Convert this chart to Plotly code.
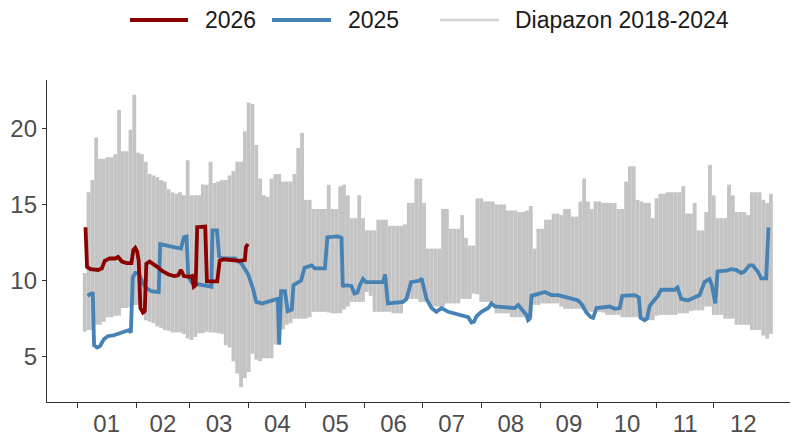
import datetime as dt
import plotly.graph_objects as go

# ---------------- data ----------------
# x = day of year (0 = 1 January)
month_labels = ["01", "02", "03", "04", "05", "06", "07", "08", "09", "10", "11", "12"]

# Range 2018-2024: min / max, one value every 2 days starting at day 4
band_day = list(range(4, 365, 2))
band_hi = [
    10.5, 15.8, 16.6, 19.4, 18.0, 18.0, 18.1, 18.1, 18.3, 21.2,
    18.5, 18.5, 19.9, 22.2, 18.4, 18.3, 17.8, 17.0, 16.9, 16.8,
    16.6, 16.5, 16.0, 15.8, 15.7, 15.8, 15.6, 17.9, 15.6, 15.6,
    15.6, 16.3, 16.3, 17.8, 16.4, 16.5, 16.6, 16.6, 16.9, 17.2,
    17.8, 17.8, 19.8, 21.7, 21.6, 18.9, 16.7, 15.6, 15.5, 16.7,
    17.0, 17.0, 16.5, 16.5, 16.5, 17.0, 18.7, 19.7, 15.3, 15.3,
    14.7, 14.7, 14.7, 14.7, 16.3, 14.7, 14.7, 16.2, 16.3, 15.6,
    14.1, 14.1, 15.6, 14.1, 13.3, 13.3, 13.3, 14.0, 14.0, 14.0,
    13.6, 13.6, 13.6, 13.6, 13.7, 15.1, 15.1, 16.7, 16.7, 15.1,
    12.1, 12.1, 12.1, 12.1, 14.7, 14.7, 13.4, 13.4, 13.4, 14.3,
    12.8, 12.3, 12.3, 15.4, 15.4, 15.2, 15.2, 15.2, 15.0, 15.0,
    15.0, 14.6, 14.6, 14.6, 14.5, 14.5, 14.6, 14.9, 12.1, 13.4,
    13.4, 14.0, 14.0, 14.4, 14.4, 14.3, 14.7, 14.7, 14.2, 14.2,
    15.2, 16.7, 15.2, 14.7, 15.2, 15.2, 15.1, 15.1, 15.1, 15.1,
    14.7, 14.7, 16.5, 17.5, 17.5, 15.3, 15.2, 15.1, 15.1, 14.1,
    15.4, 15.7, 15.7, 15.8, 15.8, 15.8, 15.8, 16.2, 14.4, 14.4,
    15.1, 13.3, 13.3, 14.5, 17.6, 15.6, 14.1, 14.1, 14.1, 16.3,
    15.6, 14.5, 14.5, 14.5, 14.3, 15.8, 15.8, 15.8, 15.3, 15.1,
    15.7,
]
band_lo = [
    6.65, 6.75, 6.75, 7.1, 7.1, 7.3, 7.6, 7.6, 7.7, 7.7,
    8.2, 8.2, 8.3, 8.4, 8.4, 8.3, 7.4, 7.3, 7.2, 7.0,
    6.9, 6.75, 6.7, 6.6, 6.6, 6.6, 6.5, 6.2, 6.1, 6.3,
    6.55, 6.55, 6.65, 6.6, 6.6, 6.55, 6.5, 5.75, 5.6, 4.7,
    3.9, 3.0, 3.6, 4.0, 5.2, 4.8, 4.7, 4.9, 4.9, 4.9,
    5.8, 6.0, 6.8, 7.1, 7.2, 7.5, 7.5, 7.5, 7.5, 7.6,
    7.95, 7.95, 7.95, 7.95, 7.9, 7.85, 7.85, 7.85, 8.1, 8.3,
    8.6, 8.6, 8.6, 8.6, 9.25, 9.0, 7.95, 7.95, 7.95, 7.95,
    7.95, 7.85, 7.85, 7.85, 8.8, 8.8, 8.8, 8.8, 8.6, 8.6,
    8.6, 8.3, 8.3, 8.3, 8.3, 8.5, 8.5, 8.5, 8.5, 8.8,
    8.8, 8.8, 9.15, 9.1, 8.6, 8.6, 8.6, 8.6, 7.85, 7.85,
    7.85, 7.85, 7.6, 7.6, 7.6, 7.6, 7.6, 7.6, 8.4, 8.4,
    8.5, 8.5, 8.5, 8.5, 8.5, 8.3, 8.15, 8.15, 8.15, 8.15,
    8.15, 8.15, 7.95, 7.95, 7.95, 7.95, 7.9, 7.75, 7.75, 7.75,
    7.75, 7.6, 7.6, 7.6, 7.6, 7.6, 7.6, 7.4, 7.4, 7.4,
    7.7, 7.75, 7.75, 7.75, 7.75, 7.75, 7.85, 7.85, 7.85, 8.0,
    8.05, 8.05, 8.05, 8.3, 8.3, 7.75, 7.75, 7.75, 7.5, 7.5,
    7.5, 7.1, 7.1, 7.1, 7.1, 6.75, 6.75, 6.75, 6.4, 6.2,
    6.5,
]

# 2025
y2025_day = [
    5.5, 7.2, 8.2, 8.9, 10.5, 12, 14, 16, 19, 23, 25.5, 27, 28.2, 29.2, 30.5, 32.5,
    34.5, 36, 39, 42.8, 43.6, 46, 49, 54.5, 56, 57.4, 58.3, 60, 62, 66, 69.7, 70.4,
    71, 73.4, 74.5, 76, 82.8, 86.3, 89.8, 92.2, 94, 97, 103.7, 105.3, 106, 107,
    109, 110.5, 112.6, 113.5, 117.5, 119.3, 123, 124.7, 130, 131.3, 137, 138.7,
    139.4, 140.5, 143.9, 145.5, 147, 148.3, 150, 151.5, 160.5, 161.6, 163, 171,
    172.8, 175.2, 179.8, 180.7, 183.3, 185.9, 188.5, 191.2, 194.7, 198.2, 203.4,
    205.2, 206.9, 208.2, 209.5, 212.1, 215.7, 217.4, 219.2, 229.6, 231.4, 234,
    235.7, 236.6, 237.5, 238.4, 243.6, 245.4, 248.9, 252.3, 258.5, 262.8, 265,
    267.2, 269.5, 270.7, 272.5, 276.8, 279.5, 282, 284.7, 286, 292.5, 294.7,
    295.6, 297.8, 299, 300.4, 302.1, 304.7, 306.4, 313.4, 315, 316.9, 320.4,
    324.8, 326.6, 329.1, 331.8, 333, 334.8, 336, 340.5, 343.1, 345.7, 348.4,
    350.1, 352.7, 354.5, 357.1, 358.9, 361.5, 362.7,
]
y2025_val = [
    9.0, 9.15, 9.15, 5.75, 5.6, 5.7, 6.15, 6.35, 6.4, 6.55, 6.7, 6.75, 6.6, 10.2, 10.5, 10.45,
    9.8, 9.55, 9.3, 9.25, 12.4, 12.35, 12.25, 12.1, 12.85, 12.9, 10.3, 9.9, 9.8, 9.7, 9.65, 9.6,
    13.3, 13.3, 11.6, 11.45, 11.45, 11.1, 10.4, 9.5, 8.6, 8.5, 8.75, 8.8, 5.8, 9.3,
    9.3, 8.0, 8.1, 9.7, 10.0, 10.85, 11.0, 10.8, 10.8, 12.85, 12.9, 12.8,
    9.6, 9.7, 9.65, 9.15, 9.2, 9.7, 10.1, 9.9, 9.9, 10.4, 8.5, 8.6,
    8.8, 9.9, 10.0, 10.15, 8.8, 8.2, 7.95, 8.2, 7.95, 7.85, 7.7,
    7.6, 7.25, 7.3, 7.65, 7.95, 8.2, 8.5, 8.3, 8.2, 8.4, 7.95,
    7.75, 7.4, 7.5, 9.0, 9.15, 9.25, 9.05, 9.05, 8.85, 8.7, 8.4,
    7.9, 7.6, 7.55, 8.2, 8.3, 8.3, 8.15, 8.2, 9.0, 9.05, 8.9,
    7.55, 7.4, 7.5, 8.35, 8.6, 9.0, 9.4, 9.4, 9.55, 8.8, 8.7,
    8.95, 9.05, 9.9, 10.1, 9.7, 8.5, 10.6, 10.65, 10.75, 10.7, 10.5,
    10.6, 11.0, 11.0, 10.6, 10.15, 10.15, 13.5,
]

# 2026
y2026_day = [
    4.4, 5.2, 7, 11, 13, 14.5, 17, 20, 21.5, 23.5, 26, 28.5, 29.5, 30.5, 31.5, 32.3,
    33.2, 34.5, 35.5, 36.3, 38, 40, 42, 45, 48, 51, 53, 54.5, 56, 59, 60.3, 61.2,
    62.2, 63, 67.2, 68.1, 73.5, 74.8, 77, 85, 88, 88.6, 89.6,
]
y2026_val = [
    13.5, 10.9, 10.75, 10.7, 10.8, 11.3, 11.45, 11.45, 11.55, 11.25, 11.15, 11.15, 12.0, 12.15, 11.9, 11.3,
    8.2, 7.9, 8.0, 11.1, 11.25, 11.1, 10.9, 10.6, 10.4, 10.3, 10.35, 10.7, 10.3, 10.25, 10.3, 9.6,
    9.7, 13.5, 13.55, 9.95, 9.95, 11.3, 11.4, 11.3, 11.35, 12.2, 12.4,
]

# ---------------- styling ----------------
RED = "#8B0000"
BLUE = "#4682B4"
BAND = "#C4C4C4"
LEG_GRAY = "#D3D3D3"
FONT = "Liberation Sans, Arial, sans-serif"
TICK_COLOR = "#4D4D4D"

# the page body has an 8px default margin: size the figure so that it fills
# the 798x443 window exactly
PAGE_OFF = 8
W, H = 798 - PAGE_OFF, 443 - PAGE_OFF
# plot area in window pixels: x 47..798, y 80..402
ML = 47 - PAGE_OFF
MT = 80 - PAGE_OFF
MR = 0
MB = H - (402 - PAGE_OFF)

# month boundaries / mid points (axis configuration)
year0 = dt.date(2025, 1, 1)
month_starts = [(dt.date(2025, m, 1) - year0).days for m in range(1, 13)]
month_ends = month_starts[1:] + [365]
month_mids = [(a + b) / 2 for a, b in zip(month_starts, month_ends)]

fig = go.Figure()

fig.add_trace(go.Bar(
    x=band_day,
    y=[h - l for h, l in zip(band_hi, band_lo)],
    base=band_lo,
    width=2.0,
    marker=dict(color=BAND, line=dict(width=0)),
    name="Diapazon 2018-2024",
    showlegend=False,
    hoverinfo="skip",
))

fig.add_trace(go.Scatter(
    x=y2025_day, y=y2025_val, mode="lines",
    line=dict(color=BLUE, width=3.8),
    name="2025", showlegend=False,
))

fig.add_trace(go.Scatter(
    x=y2026_day, y=y2026_val, mode="lines",
    line=dict(color=RED, width=3.8),
    name="2026", showlegend=False,
))

# ---------------- manual legend (window pixel positions -> paper coords) ----------------
plot_w = W - ML - MR
plot_h = H - MT - MB


def px_x(px):
    return (px - PAGE_OFF - ML) / plot_w


def px_y(py):
    return (H - MB - (py - PAGE_OFF)) / plot_h


legend_items = [
    ("2026", RED, 130, 188, 203, 3.8),
    ("2025", BLUE, 272, 331, 346, 3.8),
    ("Diapazon 2018-2024", LEG_GRAY, 440, 499, 513, 2.5),
]
leg_y = 20
shapes = []
annotations = []
for label, col, x0, x1, tx, lw in legend_items:
    shapes.append(dict(type="line", xref="paper", yref="paper",
                       x0=px_x(x0), x1=px_x(x1), y0=px_y(leg_y), y1=px_y(leg_y),
                       line=dict(color=col, width=lw)))
    annotations.append(dict(xref="paper", yref="paper", x=px_x(tx), y=px_y(leg_y),
                            text=label, showarrow=False, xanchor="left", yanchor="middle",
                            font=dict(family=FONT, size=23, color="#1A1A1A")))

fig.update_layout(
    template="none",
    width=W, height=H,
    margin=dict(l=ML, r=MR, t=MT, b=MB, autoexpand=False),
    paper_bgcolor="white", plot_bgcolor="white",
    barmode="overlay",
    showlegend=False,
    shapes=shapes,
    annotations=annotations,
    xaxis=dict(
        range=[-15.8, 378.2], automargin=False,
        tickmode="array", tickvals=month_mids, ticktext=month_labels,
        ticks="", showgrid=False, zeroline=False,
        showline=True, linecolor="#333333", linewidth=1.3,
        tickfont=dict(family=FONT, size=24, color=TICK_COLOR),
        minor=dict(tickmode="array", tickvals=month_starts, ticks="outside",
                   ticklen=5, tickwidth=1.2, tickcolor="#333333", showgrid=False),
    ),
    yaxis=dict(
        range=[2.03, 23.17], automargin=False,
        tickmode="array", tickvals=[5, 10, 15, 20],
        ticks="outside", ticklen=4, tickwidth=1.2, tickcolor="#333333",
        showgrid=False, zeroline=False,
        showline=True, linecolor="#333333", linewidth=1.3,
        tickfont=dict(family=FONT, size=24, color=TICK_COLOR),
    ),
)

fig.write_html("out.html")
